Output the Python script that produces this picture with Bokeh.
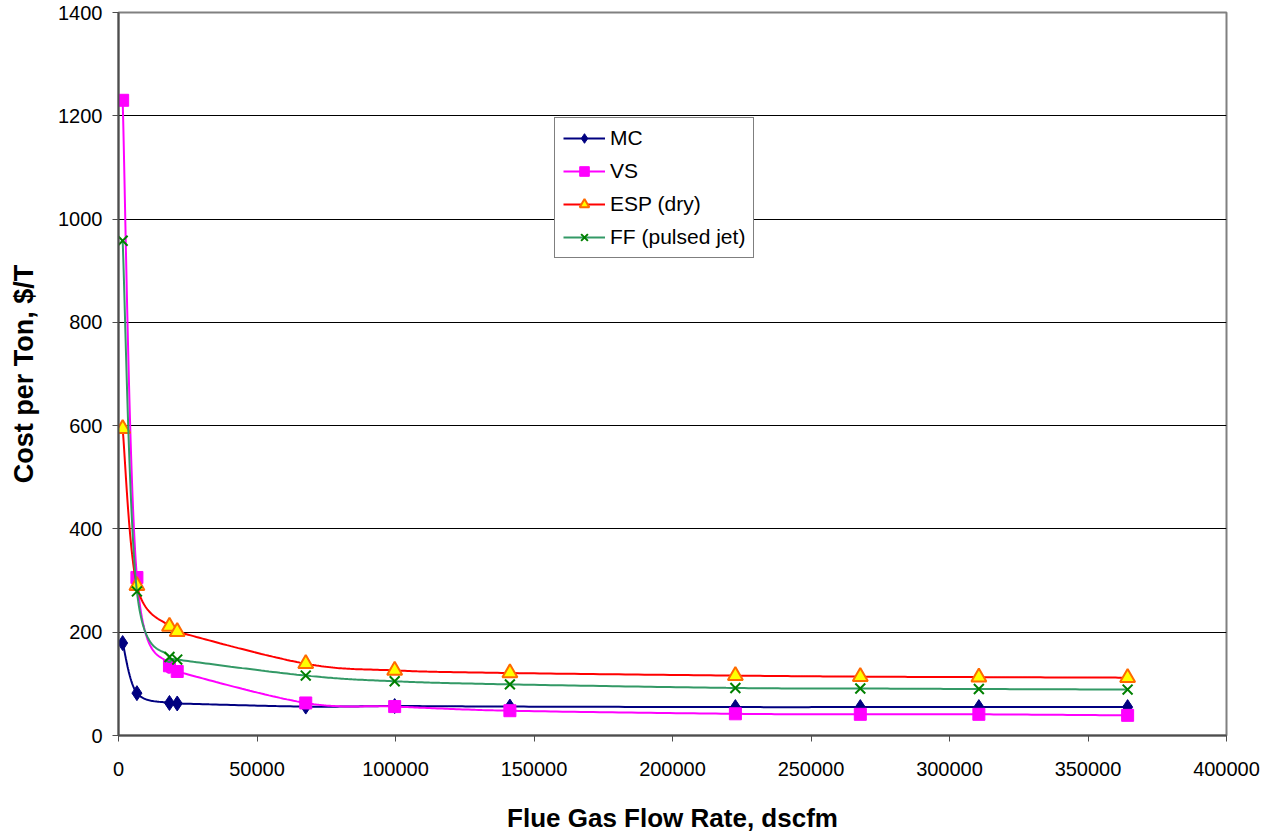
import numpy as np
from bokeh.plotting import figure
from bokeh.models import Range1d, FixedTicker, BasicTickFormatter, Legend, LegendItem
from bokeh.embed import file_html
from bokeh.resources import INLINE

# ---- data ----
flow = [1500, 6650, 18400, 21200, 67600, 99700, 141300, 222700, 267800, 310600, 364300]
mc = [179, 82, 63, 62, 56, 57, 56, 55, 55, 55, 55]
vs = [1230, 306, 135, 124, 63, 56, 48, 42, 41, 41, 39]
esp = [594, 290, 211, 201, 139, 126, 121, 116, 114, 113, 112]
ff = [958, 279, 152, 147, 116, 105, 99, 92, 91, 90, 89]
series_names = ["MC", "VS", "ESP (dry)", "FF (pulsed jet)"]
x_ticks = [0, 50000, 100000, 150000, 200000, 250000, 300000, 350000, 400000]
y_ticks = [0, 200, 400, 600, 800, 1000, 1200, 1400]


def smooth(xs, ys, n=40):
    """Excel-like smoothed line (Catmull-Rom Bezier through the points)."""
    P = np.column_stack([xs, ys]).astype(float)
    out = [P[0]]
    t = np.linspace(0, 1, n)[1:, None]
    for i in range(len(P) - 1):
        p0 = P[i - 1] if i > 0 else P[i]
        p1 = P[i]
        p2 = P[i + 1]
        p3 = P[i + 2] if i + 2 < len(P) else P[i + 1]
        c1 = p1 + (p2 - p0) / 6.0
        c2 = p2 - (p3 - p1) / 6.0
        seg = (1 - t) ** 3 * p1 + 3 * (1 - t) ** 2 * t * c1 + 3 * (1 - t) * t ** 2 * c2 + t ** 3 * p2
        out.extend(seg)
    out = np.array(out)
    return out[:, 0], out[:, 1]


FONT = "Liberation Sans"

p = figure(width=1270, height=835, output_backend="svg", toolbar_location=None,
           x_range=Range1d(0, 400000), y_range=Range1d(0, 1400),
           min_border_left=118, min_border_right=44, min_border_top=12, min_border_bottom=100)
p.background_fill_color = "white"
p.border_fill_color = "white"
p.outline_line_color = "#808080"
p.outline_line_width = 2

p.xgrid.visible = False
p.ygrid.grid_line_color = "black"
p.ygrid.grid_line_width = 1
p.ygrid.ticker = FixedTicker(ticks=y_ticks)

for ax in (p.xaxis[0], p.yaxis[0]):
    ax.axis_line_color = "#4d4d4d"
    ax.axis_line_width = 2
    ax.major_tick_line_color = "#4d4d4d"
    ax.major_tick_line_width = 1
    ax.major_tick_out = 6
    ax.major_tick_in = 0
    ax.minor_tick_line_color = None
    ax.major_label_text_font = FONT
    ax.major_label_text_font_size = "20px"
    ax.major_label_text_color = "black"
    ax.axis_label_text_font = FONT
    ax.axis_label_text_font_style = "bold"
    ax.axis_label_text_color = "black"

p.xaxis.ticker = FixedTicker(ticks=x_ticks)
p.yaxis.ticker = FixedTicker(ticks=y_ticks)
p.xaxis.formatter = BasicTickFormatter(use_scientific=False)
p.yaxis.formatter = BasicTickFormatter(use_scientific=False)
p.xaxis.major_label_standoff = 20
p.yaxis.major_label_standoff = 10
p.xaxis.axis_label = "Flue Gas Flow Rate, dscfm"
p.yaxis.axis_label = "Cost per Ton, $/T"
p.xaxis.axis_label_text_font_size = "26px"
p.yaxis.axis_label_text_font_size = "27px"
p.xaxis.axis_label_standoff = 24
p.yaxis.axis_label_standoff = 16

styles = [
    dict(line="#000080", marker="diamond", size=15, fill="#000080", mline="#000080", lw=1),
    dict(line="#FF00FF", marker="square", size=12, fill="#FF00FF", mline="#FF00FF", lw=1),
    dict(line="#FF0000", marker="triangle", size=15, fill="#FFFF00", mline="#FF6A00", lw=2),
    dict(line="#339966", marker="x", size=14, fill=None, mline="#008000", lw=2),
]

items = []
for name, ys, st in zip(series_names, [mc, vs, esp, ff], styles):
    sx, sy = smooth(flow, ys)
    r_line = p.line(sx, sy, line_color=st["line"], line_width=2)
    r_mark = p.scatter(flow, ys, marker=st["marker"], size=st["size"],
                       fill_color=st["fill"], line_color=st["mline"], line_width=st["lw"])
    items.append(LegendItem(label=name, renderers=[r_line, r_mark]))

legend = Legend(items=items, location=(436, 477), orientation="vertical",
                label_text_font=FONT, label_text_font_size="21px", label_text_color="black",
                glyph_width=42, glyph_height=24, label_height=24, spacing=9, padding=8,
                label_standoff=5, margin=0,
                border_line_color="black", border_line_width=1,
                background_fill_color="white", background_fill_alpha=1.0)
p.add_layout(legend, "center")

open("out.html", "w").write(file_html(p, INLINE))
